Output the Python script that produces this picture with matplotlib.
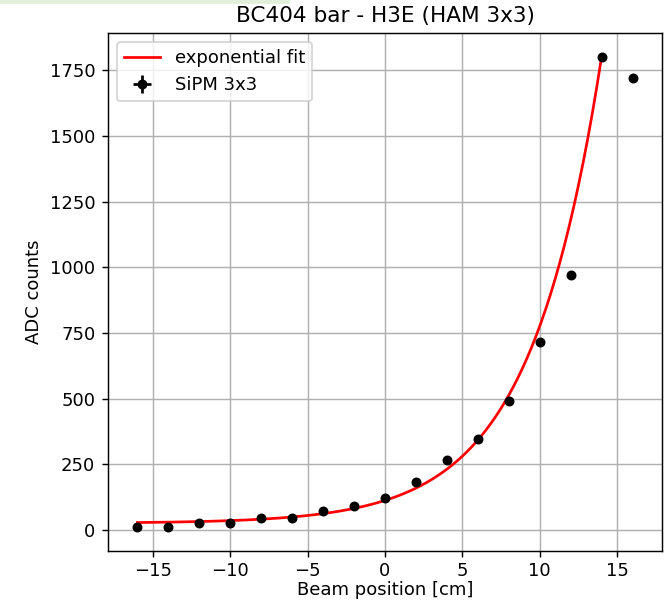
import numpy as np
import matplotlib.pyplot as plt
from matplotlib.patches import Rectangle

# beam position scan, SiPM 3x3 readout
position = [-16, -14, -12, -10, -8, -6, -4, -2, 0, 2, 4, 6, 8, 10, 12, 14, 16]
adc = [9, 9, 25, 25, 44, 44, 73, 90, 120, 184, 265, 345, 491, 714, 971, 1800, 1721]
adc_err = [0] * len(adc)
pos_err = [0] * len(position)

# exponential fit a*exp(b*x)+c, range -16..14
fit_a, fit_b, fit_c = 87.0, 0.2155, 25.0
fit_range = (-16, 14)

xf = np.linspace(fit_range[0], fit_range[1], 300)
yf = fit_a * np.exp(fit_b * xf) + fit_c

fig = plt.figure(figsize=(672 / 130, 603 / 130), dpi=130)
ax = fig.add_axes([0.1607, 0.0862, 0.8244, 0.8591])
ax.plot(xf, yf, color='red', label='exponential fit')
ax.errorbar(position, adc, xerr=pos_err, yerr=adc_err, fmt='o', color='black',
            markersize=4.5, label='SiPM 3x3')
ax.set_title("BC404 bar - H3E (HAM 3x3)")
ax.set_xlabel("Beam position [cm]", labelpad=0.5)
ax.set_ylabel("ADC counts")
ax.set_xlim(-17.9, 17.9)
ax.tick_params(axis='x', pad=2.5)
ax.grid(True)
ax.legend(loc='upper left')

fig.patches.append(Rectangle((0, 0.995), 0.43, 0.005, transform=fig.transFigure,
                             color='#e2f0da', zorder=0))
fig.savefig("out.png", dpi=130)
